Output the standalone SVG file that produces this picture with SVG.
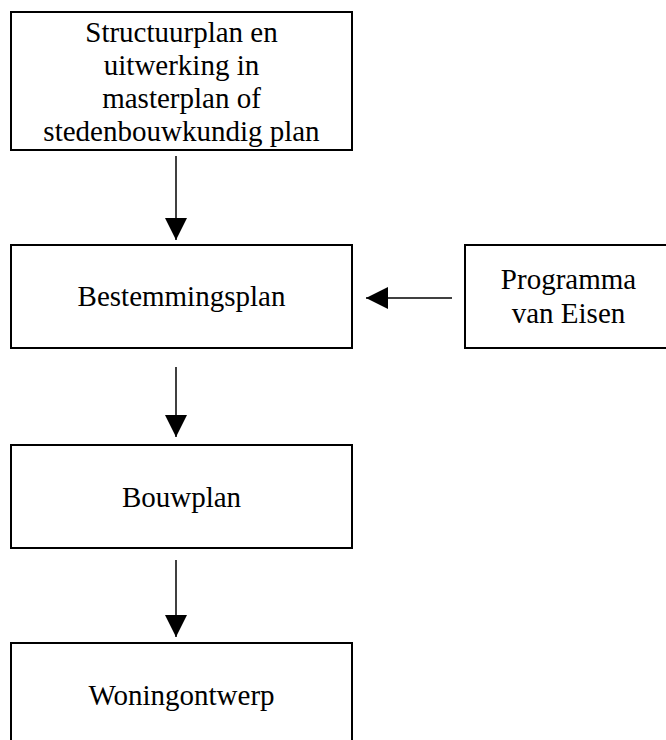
<svg xmlns="http://www.w3.org/2000/svg" width="666" height="740" viewBox="0 0 666 740">
<style>
.box{fill:#fff;stroke:#000;stroke-width:2}
.t{font-family:"Liberation Serif","Times New Roman",serif;font-size:29px;fill:#000;text-anchor:middle}
.c{stroke:#000;stroke-width:1.5;fill:none}
</style>
<defs>
<marker id="ah" markerWidth="22" markerHeight="22" viewBox="0 0 22 22" refX="22" refY="11" orient="auto" markerUnits="userSpaceOnUse">
<path d="M0,0 L22,11 L0,22 Z" fill="#000"/>
</marker>
</defs>
<rect width="666" height="740" fill="#fff"/>
<g id="n1">
<rect class="box" x="11" y="12" width="341" height="138"/>
<text class="t" x="181.5" y="42">Structuurplan en</text>
<text class="t" x="181.5" y="75">uitwerking in</text>
<text class="t" x="181.5" y="108">masterplan of</text>
<text class="t" x="181.5" y="141">stedenbouwkundig plan</text>
</g>
<g id="n2">
<rect class="box" x="11" y="245" width="341" height="103"/>
<text class="t" x="181.5" y="306">Bestemmingsplan</text>
</g>
<g id="n3">
<rect class="box" x="465" y="245" width="210" height="103"/>
<text class="t" x="568.5" y="289">Programma</text>
<text class="t" x="568.5" y="323">van Eisen</text>
</g>
<g id="n4">
<rect class="box" x="11" y="445" width="341" height="103"/>
<text class="t" x="181.5" y="507">Bouwplan</text>
</g>
<g id="n5">
<rect class="box" x="11" y="643" width="341" height="110"/>
<text class="t" x="181.5" y="705">Woningontwerp</text>
</g>
<g id="connectors">
<line class="c" x1="176" y1="156" x2="176" y2="240" marker-end="url(#ah)"/>
<line class="c" x1="452" y1="298" x2="366" y2="298" marker-end="url(#ah)"/>
<line class="c" x1="176" y1="367" x2="176" y2="437" marker-end="url(#ah)"/>
<line class="c" x1="176" y1="560" x2="176" y2="637" marker-end="url(#ah)"/>
</g>
</svg>
